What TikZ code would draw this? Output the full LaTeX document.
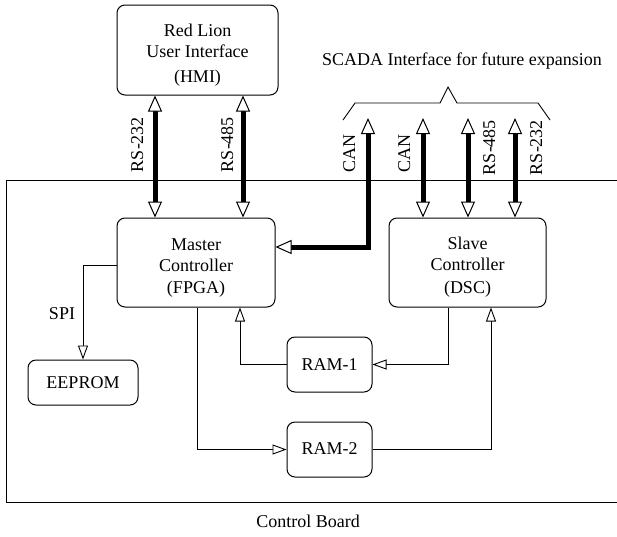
\documentclass[tikz,border=0pt]{standalone}
\usepackage{fontspec}
\setmainfont{Liberation Serif}
\usetikzlibrary{arrows.meta}
\newcommand{\lowtext}[2]{\raisebox{-#1}[\height][\depth]{\begin{tabular}{@{}c@{}}#2\end{tabular}}}
\begin{document}
\begin{tikzpicture}[x=1pt,y=-1pt,
  font=\fontsize{18}{21.5}\selectfont,
  box/.style={draw, line width=1pt, rounded corners=8pt, align=center, inner sep=0pt},
  bigtip/.tip={Triangle[fill=white,length=16pt,width=14pt,line width=1pt]},
  smalltip/.tip={Triangle[fill=white,length=14pt,width=10pt,line width=0.9pt]},
  bus/.style={line width=5pt, bigtip-bigtip},
  wire/.style={line width=0.9pt, -smalltip},
  vlabel/.style={rotate=90, anchor=base, inner sep=0pt},
  plain/.style={line width=0.9pt}]
\useasboundingbox (0,0) rectangle (617,536);

% board outline
\draw[plain] (617,180) -- (6,180) -- (6,502) -- (617,502);
\node[anchor=base, inner sep=0pt] (board) at (308,527) {Control Board};

% nodes
\node[box, minimum width=161pt, minimum height=90pt] (h) at (197.5,50) {\lowtext{5pt}{Red Lion\\User Interface\\[3pt](HMI)}};
\node[box, minimum width=158pt, minimum height=89pt] (m) at (196,262.5) {\lowtext{5pt}{Master\\Controller\\(FPGA)}};
\node[box, minimum width=157pt, minimum height=89pt] (s) at (467.5,262.5) {\lowtext{4.5pt}{Slave\\Controller\\[1pt](DSC)}};
\node[box, minimum width=110pt, minimum height=45pt] (e) at (83,382.5) {EEPROM};
\node[box, minimum width=85pt, minimum height=55pt] (r1) at (329.5,364.5) {\lowtext{1.5pt}{RAM-1}};
\node[box, minimum width=85pt, minimum height=55pt] (r2) at (329.5,449.5) {\lowtext{1pt}{RAM-2}};

% SCADA brace and text
\node[anchor=base, inner sep=0pt] (scada) at (462,65) {SCADA Interface for future expansion};
\draw[plain] (343,120) -- (355,103) -- (440,103) -- (448,87) -- (457,103) -- (538,103) -- (550,120);

% coordinates
\coordinate (xa) at (155,0);
\coordinate (xb) at (243,0);
\coordinate (can1) at (368,118);
\coordinate (cany) at (0,247);
\coordinate (can2) at (423,118);
\coordinate (rs485) at (468,118);
\coordinate (rs232) at (515,118);
\coordinate (spiy) at (0,265);
\coordinate (xr1) at (240,0);
\coordinate (xs1) at (448,0);
\coordinate (xm2) at (197,0);
\coordinate (xs2) at (491,0);

% buses
\draw[bus] (h.south -| xa) -- (m.north -| xa);
\draw[bus] (h.south -| xb) -- (m.north -| xb);
\draw[bus] (can1) |- (m.east |- cany);
\draw[bus] (can2) -- (s.north -| can2);
\draw[bus] (rs485) -- (s.north -| rs485);
\draw[bus] (rs232) -- (s.north -| rs232);

% bus labels
\node[vlabel] (l1) at (143,144.5) {RS-232};
\node[vlabel] (l2) at (233,144.5) {RS-485};
\node[vlabel] (l3) at (355,153.5) {CAN};
\node[vlabel] (l4) at (410,153.5) {CAN};
\node[vlabel] (l5) at (495,147.5) {RS-485};
\node[vlabel] (l6) at (542,147.5) {RS-232};

% thin wires
\draw[wire] (m.west |- spiy) -| (e.north);
\node[anchor=base, inner sep=0pt] (spi) at (62,319) {SPI};
\draw[wire] (r1.west) -| (m.south -| xr1);
\draw[wire] (s.south -| xs1) |- (r1.east);
\draw[wire] (m.south -| xm2) |- (r2.west);
\draw[wire] (r2.east) -| (s.south -| xs2);
\end{tikzpicture}
\end{document}
